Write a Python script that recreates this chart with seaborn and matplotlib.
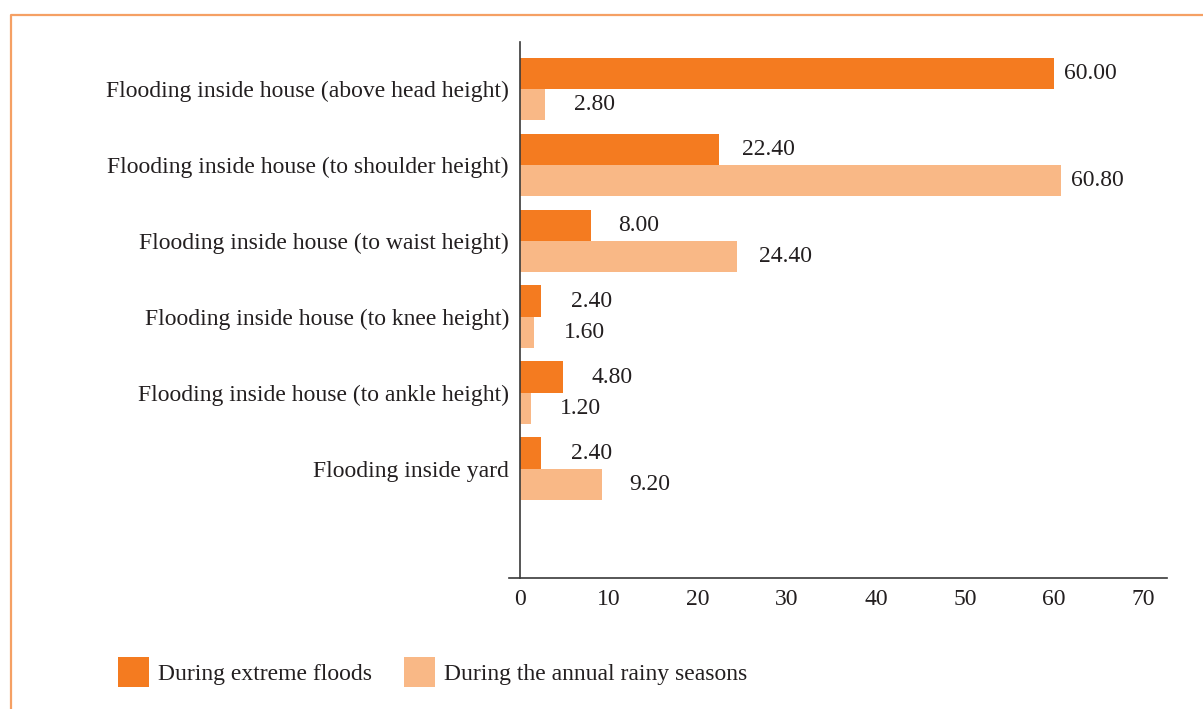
import matplotlib
matplotlib.use("Agg")
import matplotlib.pyplot as plt
from matplotlib.lines import Line2D
from matplotlib.patches import Patch
import numpy as np
import pandas as pd
import seaborn as sns

# Flood depth categories, top to bottom
categories = [
    "Flooding inside house (above head height)",
    "Flooding inside house (to shoulder height)",
    "Flooding inside house (to waist height)",
    "Flooding inside house (to knee height)",
    "Flooding inside house (to ankle height)",
    "Flooding inside yard",
]
series_names = ["During extreme floods", "During the annual rainy seasons"]
extreme_floods = [60.00, 22.40, 8.00, 2.40, 4.80, 2.40]
rainy_seasons = [2.80, 60.80, 24.40, 1.60, 1.20, 9.20]
x_ticks = [0, 10, 20, 30, 40, 50, 60, 70]

colors = ["#F47B20", "#F9B886"]
text_color = "#231F20"
frame_color = "#F5A064"
FS = 17

df = pd.DataFrame({
    "category": categories * 2,
    "series": [series_names[0]] * len(categories) + [series_names[1]] * len(categories),
    "value": extreme_floods + rainy_seasons,
})

sns.set_theme(style="white")
plt.rcParams["font.family"] = ["Liberation Serif", "DejaVu Serif"]
plt.rcParams["text.color"] = text_color

W, H = 1203, 709
fig = plt.figure(figsize=(W / 100, H / 100), dpi=100)
ax = fig.add_axes([509 / W, 1 - 578 / H, (1167 - 509) / W, (578 - 42) / H])

sns.barplot(
    data=df, y="category", x="value", hue="series", orient="h",
    order=categories, hue_order=series_names, palette=colors,
    saturation=1, width=0.82, linewidth=0, errorbar=None,
    legend=False, ax=ax,
)

ax.set_xlim(-1.236, 72.7)
ax.set_ylim(6.44, -0.615)
ax.set_xticks(x_ticks)
ax.set_xlabel("")
ax.set_ylabel("")

for side in ("top", "right"):
    ax.spines[side].set_visible(False)
ax.spines["left"].set_position(("data", 0))
for side in ("left", "bottom"):
    ax.spines[side].set_color("#3a3a3a")
    ax.spines[side].set_linewidth(1.2)

ax.tick_params(axis="both", length=0, labelsize=FS, labelcolor=text_color)
ax.tick_params(axis="y", pad=8)
ax.tick_params(axis="x", pad=8)

# Value labels at the end of each bar
for container in ax.containers:
    for bar in container:
        v = bar.get_width()
        yc = bar.get_y() + bar.get_height() / 2
        offset_px = 30 - 0.33 * v
        ax.annotate(f"{v:.2f}", xy=(v, yc), xytext=(offset_px * 0.72, 0),
                    textcoords="offset points", va="center", ha="left",
                    fontsize=FS, color=text_color)

# Legend below the plot
handles = [Patch(facecolor=c, edgecolor="none") for c in colors]
fig.legend(handles, series_names, loc="center left",
           bbox_to_anchor=(118 / W, 1 - 672 / H), ncol=2, frameon=False,
           fontsize=FS, handlelength=1.31, handleheight=1.6,
           handletextpad=0.38, columnspacing=1.35,
           borderpad=0, borderaxespad=0)

# Orange frame on the top and left edges
fx = 11 / W
fy = 1 - 15 / H
fig.add_artist(Line2D([fx, fx, 1.0], [0.0, fy, fy], transform=fig.transFigure,
                      color=frame_color, linewidth=1.6))

fig.savefig("out.png", dpi=100)
